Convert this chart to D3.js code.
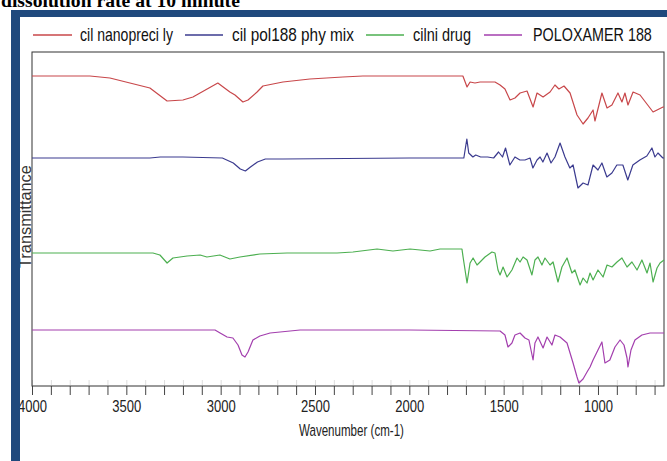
<!DOCTYPE html>
<html>
<head>
<meta charset="utf-8">
<script src="https://cdn.jsdelivr.net/npm/d3@7"></script>
<style>
  body { margin: 0; background: #fff; }
  svg { display: block; }
</style>
</head>
<body>
<svg></svg>
<script>
// series names as in the legend
var seriesNames = ["cil nanopreci ly", "cil pol188 phy mix", "cilni drug", "POLOXAMER 188"];
var seriesColors = ["#c8474a", "#3b3b8f", "#4caf50", "#a33fae"];

// [wavenumber (cm-1), transmittance (a.u., offset traces)]
var nanoprecipitate = [[4000,310],[3850,310],[3693,310],[3587,308],[3481,303],[3375,298],[3284,285],[3200,286],
  [3147,289],[3015,303],[2951,294],[2924,291],[2882,284],[2855,286],[2807,294],[2776,300],[2670,304],[2527,307],
  [2352,309],[2246,310],[2000,310],[1784,310],[1716,310],[1694,299],[1678,304],[1652,303],[1625,304],[1599,304],
  [1546,304],[1519,301],[1493,297],[1466,286],[1440,288],[1413,293],[1376,295],[1344,279],[1323,293],[1291,289],
  [1254,294],[1228,301],[1207,297],[1180,300],[1148,293],[1111,271],[1079,262],[1053,268],[1026,276],[1016,265],
  [979,293],[952,278],[926,281],[894,293],[873,284],[857,293],[841,281],[814,294],[777,291],[708,274],[655,279],[650,279]];

var physicalMix = [[4000,228],[3500,228],[3375,228],[3320,229],[3200,229],[2991,228],[2933,223],[2896,217],[2869,215],
  [2842,219],[2805,224],[2763,227],[2670,227],[2000,228],[1711,228],[1695,247],[1685,233],[1663,229],[1648,231],
  [1622,229],[1585,229],[1553,228],[1527,234],[1506,229],[1490,238],[1478,229],[1467,221],[1440,229],[1414,226],
  [1387,226],[1360,228],[1345,218],[1323,226],[1307,229],[1292,224],[1270,233],[1249,223],[1228,229],[1201,243],
  [1175,229],[1149,218],[1132,221],[1106,198],[1079,203],[1053,201],[1026,221],[1000,216],[979,223],[953,209],
  [926,213],[900,221],[868,221],[842,206],[815,221],[778,226],[741,230],[714,238],[698,229],[682,233],[656,228],[650,228]];

var cilniDrug = [[4000,133],[3534,133],[3359,133],[3322,131],[3284,123],[3253,128],[3178,130],[3109,131],[3073,129],
  [3004,131],[2951,127],[2898,129],[2792,132],[2648,133],[2383,133],[2299,134],[2171,137],[2087,135],[1996,137],
  [1890,135],[1837,137],[1721,137],[1715,129],[1694,103],[1678,123],[1662,128],[1641,121],[1625,124],[1599,129],
  [1562,134],[1546,133],[1530,116],[1519,111],[1503,119],[1482,109],[1456,116],[1429,128],[1413,124],[1397,129],
  [1376,126],[1350,111],[1334,126],[1318,129],[1297,121],[1281,128],[1254,121],[1238,124],[1212,104],[1191,119],
  [1164,128],[1138,113],[1122,116],[1095,101],[1079,108],[1058,103],[1042,113],[1026,106],[1000,116],[973,109],
  [952,121],[926,119],[899,124],[873,128],[846,119],[820,124],[793,116],[767,126],[740,113],[724,123],[708,104],
  [687,118],[671,123],[650,126]];

var poloxamer = [[4000,56],[3100,56],[3030,56],[3003,53],[2966,49],[2935,48],[2908,41],[2887,31],[2871,29],[2855,34],
  [2829,46],[2792,50],[2738,53],[2685,54],[2579,56],[2000,56],[1519,55],[1493,51],[1477,39],[1456,43],[1440,51],
  [1413,53],[1387,48],[1366,46],[1344,26],[1334,43],[1318,49],[1291,38],[1270,49],[1244,41],[1228,51],[1201,49],
  [1164,43],[1148,33],[1132,23],[1111,9],[1101,3],[1079,7],[1058,14],[1042,19],[1026,26],[1000,36],[979,44],
  [963,23],[937,26],[910,39],[883,46],[862,41],[846,28],[841,19],[825,36],[804,46],[767,51],[724,53],[650,53]];

var xTickLabels = [4000, 3500, 3000, 2500, 2000, 1500, 1000];

// squeeze a text horizontally so it spans w pixels (the original uses a narrow font)
var squeeze = function(sel, x, y, w, rot){
    sel.each(function(){
      var len = this.getComputedTextLength();
      var t = "translate(" + x + "," + y + ")" + (rot ? " rotate(" + rot + ")" : "") + " scale(" + (w / len) + ",1)";
      d3.select(this).attr("transform", t);
    });
}

var drawChart = function(data){
    var width = 667;
    var height = 461;
    var left = 32, right = 664, top = 52, bottom = 386;

    var svg = d3.select("svg")
      .attr("width", width)
      .attr("height", height);

    // title (cut off at the top of the page, as in the original)
    svg.append("text")
      .text("dissolution rate at 10 minute")
      .attr("font-family", "Liberation Serif, serif")
      .attr("font-weight", "bold")
      .attr("font-size", 19)
      .attr("fill", "#000")
      .call(squeeze, 1, 7, 239);

    var x = d3.scaleLinear().domain([4000, 650]).range([left, right]);
    var y = d3.scaleLinear().domain([0, 334]).range([bottom, top]);

    // x axis
    var xAxis = d3.axisBottom(x)
      .tickValues(d3.range(4000, 650, -100))
      .tickSize(9)
      .tickPadding(5)
      .tickFormat(function(d){ return xTickLabels.indexOf(d) >= 0 ? d : ""; });
    var gx = svg.append("g")
      .attr("transform", "translate(0," + bottom + ")")
      .call(xAxis);
    gx.select(".domain").remove();
    gx.selectAll("line").attr("stroke", "#444");
    gx.selectAll("text")
      .attr("font-family", "Liberation Sans, Arial, sans-serif")
      .attr("font-size", 17)
      .attr("fill", "#222")
      .attr("textLength", function(d){ return xTickLabels.indexOf(d) >= 0 ? 29 : null; })
      .attr("lengthAdjust", "spacingAndGlyphs");

    // faint inner ticks
    svg.append("g")
      .attr("transform", "translate(0," + (bottom - 1) + ")")
      .call(d3.axisBottom(x).tickValues(d3.range(4000, 650, -100)).tickSize(-5).tickFormat(""))
      .call(function(g){
        g.select(".domain").remove();
        g.selectAll("line").attr("stroke", "#ddd");
      });

    // plot frame
    svg.append("rect")
      .attr("x", left)
      .attr("y", top)
      .attr("width", right - left)
      .attr("height", bottom - top)
      .attr("fill", "none")
      .attr("stroke", "#333")
      .attr("stroke-width", 1);

    // spectra
    var line = d3.line()
      .x(function(d){ return x(d[0]); })
      .y(function(d){ return y(d[1]); });

    svg.selectAll("path.spectrum")
      .data(data)
      .enter()
      .append("path")
      .attr("class", "spectrum")
      .attr("d", function(d){ return line(d); })
      .attr("fill", "none")
      .attr("stroke", function(d, i){ return seriesColors[i]; })
      .attr("stroke-width", 1.2)
      .attr("stroke-linejoin", "round");

    // axis titles
    svg.append("text")
      .text("Wavenumber (cm-1)")
      .attr("font-family", "Liberation Sans, Arial, sans-serif")
      .attr("font-size", 17)
      .attr("fill", "#222")
      .call(squeeze, 299, 436, 105);

    svg.append("text")
      .text("Transmittance")
      .attr("font-family", "Liberation Sans, Arial, sans-serif")
      .attr("font-size", 16)
      .attr("fill", "#333")
      .call(squeeze, 31, 268, 103, -90);

    // legend
    var legendLines = [[33, 72], [185, 223], [366, 404], [484, 522]];
    var legendText = [[80, 93], [232, 122], [413, 58], [533, 119]];
    var lg = svg.append("g");
    lg.selectAll("line")
      .data(seriesNames)
      .enter()
      .append("line")
      .attr("x1", function(d, i){ return legendLines[i][0]; })
      .attr("x2", function(d, i){ return legendLines[i][1]; })
      .attr("y1", 35)
      .attr("y2", 35)
      .attr("stroke", function(d, i){ return seriesColors[i]; })
      .attr("stroke-width", 1.5);
    lg.selectAll("text")
      .data(seriesNames)
      .enter()
      .append("text")
      .text(function(d){ return d; })
      .attr("font-family", "Liberation Sans, Arial, sans-serif")
      .attr("font-size", 18)
      .attr("fill", "#111")
      .each(function(d, i){
        d3.select(this).call(squeeze, legendText[i][0], 41, legendText[i][1]);
      });

    // blue page frame (drawn over the chart edge like the original)
    svg.append("rect")
      .attr("x", 11).attr("y", 10)
      .attr("width", width - 11).attr("height", 7)
      .attr("fill", "#1f497d");
    svg.append("rect")
      .attr("x", 11).attr("y", 10)
      .attr("width", 9).attr("height", height - 10)
      .attr("fill", "#1f497d");
}

drawChart([nanoprecipitate, physicalMix, cilniDrug, poloxamer]);
</script>
</body>
</html>
